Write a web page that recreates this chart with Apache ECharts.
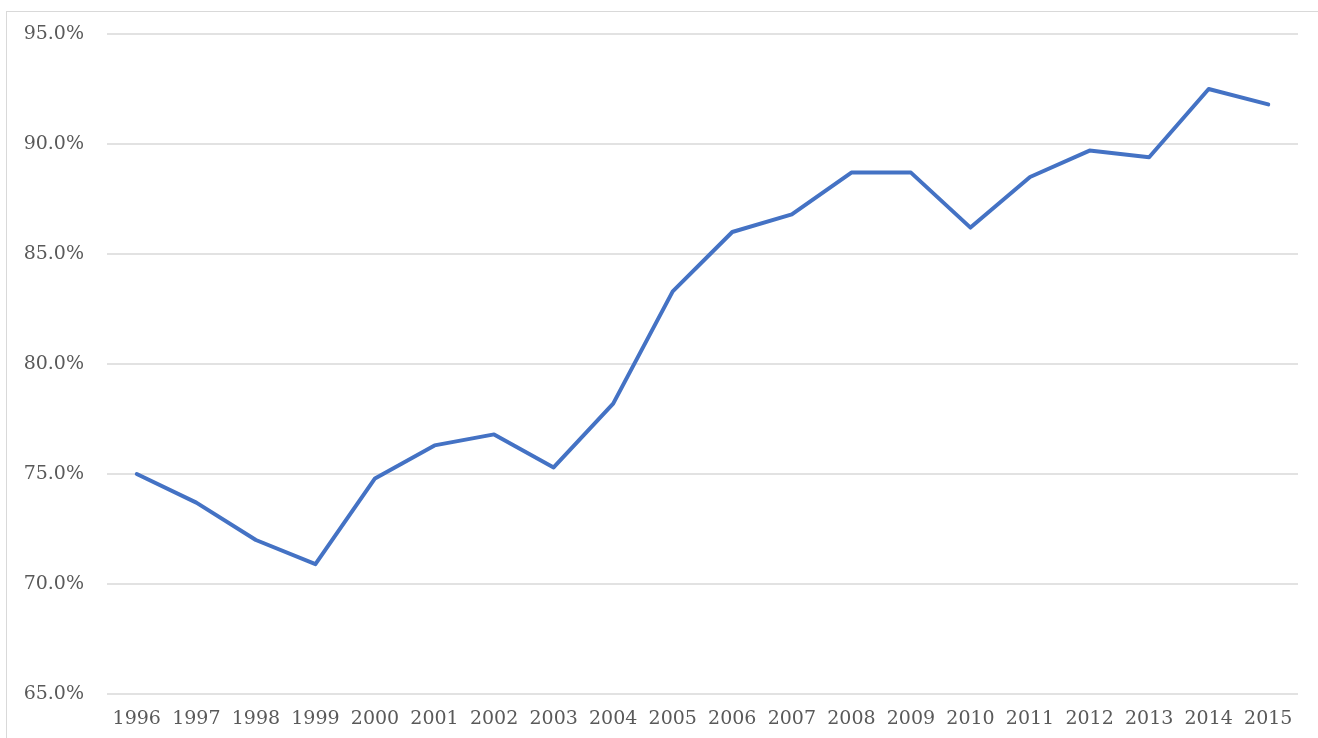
<!DOCTYPE html>
<html>
<head>
<meta charset="utf-8">
<script src="https://cdn.jsdelivr.net/npm/echarts@6/dist/echarts.min.js"></script>
<style>
  html, body { margin: 0; padding: 0; background: #fff; overflow: hidden; }
  #frame {
    position: absolute; left: 6px; top: 11px;
    width: 1400px; height: 800px;
    border: 1.5px solid #d9d9d9;
  }
  #chart { position: absolute; left: 0; top: 0; width: 1318px; height: 738px; }
</style>
</head>
<body>
<div id="frame"></div>
<div id="chart"></div>
<script>
// years on the x axis
const years = ['1996', '1997', '1998', '1999', '2000', '2001', '2002', '2003', '2004', '2005',
  '2006', '2007', '2008', '2009', '2010', '2011', '2012', '2013', '2014', '2015'];
// share in percent
const shareValues = [75.0, 73.7, 72.0, 70.9, 74.8, 76.3, 76.8, 75.3, 78.2, 83.3,
  86.0, 86.8, 88.7, 88.7, 86.2, 88.5, 89.7, 89.4, 92.5, 91.8];

const labelFont = { fontFamily: 'DejaVu Serif', fontSize: 19, color: '#595959' };

const chart = echarts.init(document.getElementById('chart'));
chart.setOption({
  animation: false,
  grid: { left: 107, right: 20, top: 34, bottom: 44, containLabel: false },
  xAxis: {
    type: 'category',
    data: years,
    boundaryGap: true,
    axisLine: { show: false },
    axisTick: { show: false },
    axisLabel: { ...labelFont, margin: 16, interval: 0 },
  },
  yAxis: {
    type: 'value',
    min: 65,
    max: 95,
    interval: 5,
    axisLine: { show: false },
    axisTick: { show: false },
    splitLine: { lineStyle: { color: '#d9d9d9', width: 1.5 } },
    axisLabel: {
      ...labelFont,
      margin: 23,
      formatter: v => `${v.toFixed(1)}%`,
    },
  },
  series: [
    {
      type: 'line',
      data: shareValues,
      showSymbol: false,
      lineStyle: { color: '#4472C4', width: 4, join: 'round', cap: 'round' },
      itemStyle: { color: '#4472C4' },
    },
  ],
});
</script>
</body>
</html>
